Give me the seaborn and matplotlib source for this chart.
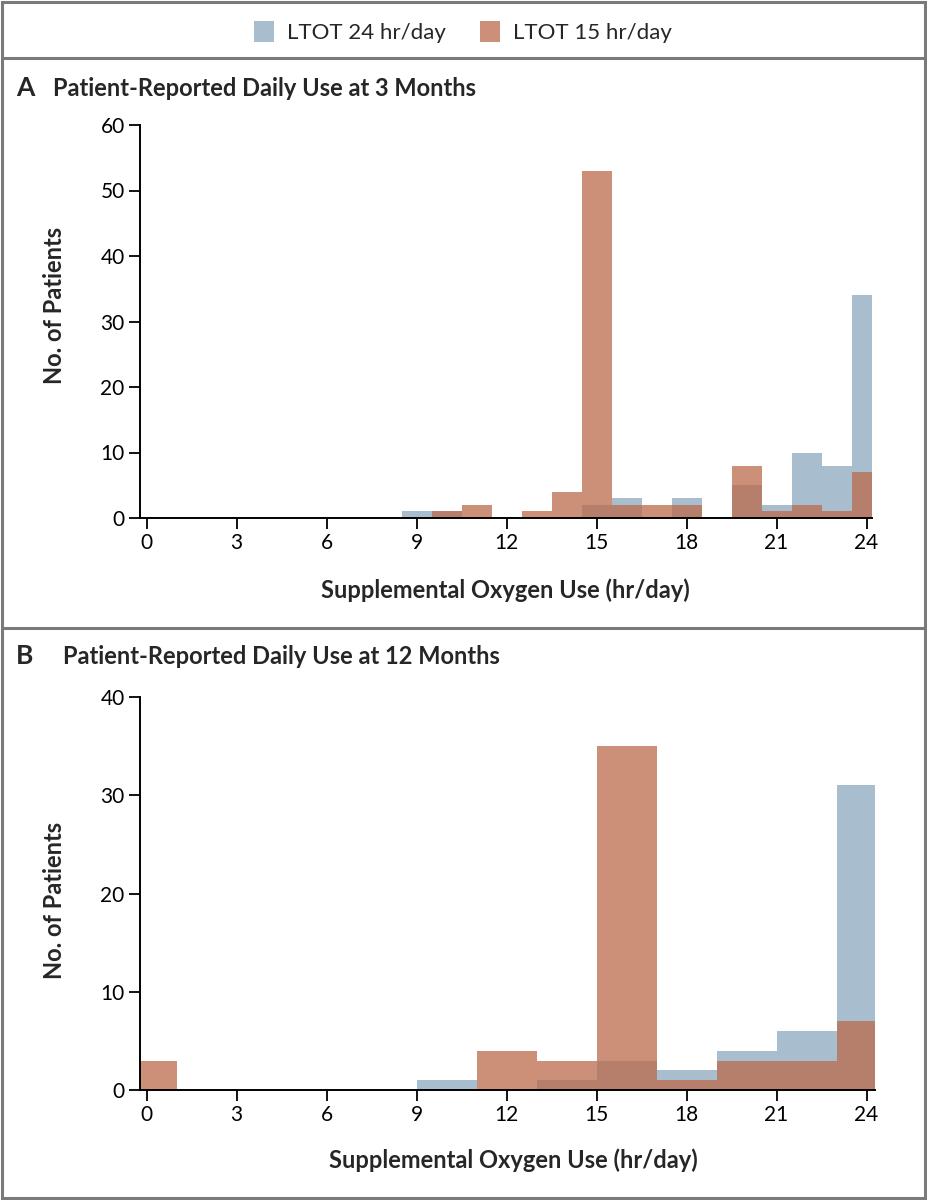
import numpy as np
import pandas as pd
import matplotlib
matplotlib.use("Agg")
import matplotlib.pyplot as plt
import seaborn as sns
from matplotlib.patches import Rectangle
from matplotlib.lines import Line2D

# ---- data ----
hours_a = [9, 10, 11, 12, 13, 14, 15, 16, 17, 18, 19, 20, 21, 22, 23, 24]
ltot24_a = [1, 1, 0, 0, 0, 0, 2, 3, 0, 3, 0, 5, 2, 10, 8, 34]
ltot15_a = [0, 1, 2, 0, 1, 4, 53, 2, 2, 2, 0, 8, 1, 2, 1, 7]

hours_b = [0, 2, 4, 6, 8, 10, 12, 14, 16, 18, 20, 22, 24]
ltot24_b = [0, 0, 0, 0, 0, 1, 0, 1, 3, 2, 4, 6, 31]
ltot15_b = [3, 0, 0, 0, 0, 0, 4, 3, 35, 1, 3, 3, 7]

series_names = ["LTOT 24 hr/day", "LTOT 15 hr/day"]
x_ticks = [0, 3, 6, 9, 12, 15, 18, 21, 24]

BLUE = "#A8BDCE"
ORANGE = "#BC6B4C"
ORANGE_ALPHA = 0.75
ORANGE_SHOWN = "#CC8F78"

sns.set_theme(style="white")
plt.rcParams["font.family"] = ["Lato", "DejaVu Sans"]

W, H = 927, 1200
fig = plt.figure(figsize=(W / 100, H / 100), dpi=100)


def fx(x):
    return x / W


def fy(y):
    return 1 - y / H


def draw_panel(rect, hours, blue, orange, edges, xlim, ylim, yticks):
    ax = fig.add_axes(rect)
    df = pd.DataFrame({"hours": hours, "blue": blue, "orange": orange})
    edges = [float(e) for e in edges]
    sns.histplot(data=df, x="hours", weights="blue", bins=edges, ax=ax,
                 color=BLUE, alpha=1, linewidth=0, stat="count")
    sns.histplot(data=df, x="hours", weights="orange", bins=edges, ax=ax,
                 color=ORANGE, alpha=ORANGE_ALPHA, linewidth=0, stat="count")
    ax.set_xlim(*xlim)
    ax.set_ylim(*ylim)
    ax.set_xticks(x_ticks)
    ax.set_yticks(yticks)
    ax.set_xlabel("")
    ax.set_ylabel("")
    for s in ["top", "right"]:
        ax.spines[s].set_visible(False)
    for s in ["left", "bottom"]:
        ax.spines[s].set_color("black")
        ax.spines[s].set_linewidth(1.4)
    ax.tick_params(axis="both", direction="out", length=8, width=1.3,
                   colors="black", labelsize=15, pad=3,
                   bottom=True, left=True)
    ax.set_facecolor("white")
    return ax


# panel A
draw_panel([fx(140), fy(518), fx(871.7) - fx(140), fy(125) - fy(518)],
           hours_a, ltot24_a, ltot15_a, np.arange(8.5, 25.5, 1),
           (-0.22, 24.17), (0, 60), [0, 10, 20, 30, 40, 50, 60])

# panel B
draw_panel([fx(140), fy(1090), fx(875) - fx(140), fy(697) - fy(1090)],
           hours_b, ltot24_b, ltot15_b, np.arange(-1, 27, 2),
           (-0.22, 24.28), (0, 40), [0, 10, 20, 30, 40])

# panel labels and titles
fig.text(fx(16), fy(88), "A", fontsize=19, fontweight="bold", va="center")
fig.text(fx(53), fy(88), "Patient-Reported Daily Use at 3 Months",
         fontsize=17, fontweight="bold", va="center")
fig.text(fx(16), fy(656), "B", fontsize=19, fontweight="bold", va="center")
fig.text(fx(63), fy(656), "Patient-Reported Daily Use at 12 Months",
         fontsize=17, fontweight="bold", va="center")

# axis labels
for yc, xc, ly in [(305, 505, 590), (900, 513, 1160)]:
    fig.text(fx(55), fy(yc), "No. of Patients", fontsize=17,
             fontweight="bold", rotation=90, ha="center", va="center")
    fig.text(fx(xc), fy(ly), "Supplemental Oxygen Use (hr/day)",
             fontsize=17, fontweight="bold", ha="center", va="center")

# legend
handles = [Rectangle((0, 0), 1, 1, facecolor=BLUE, edgecolor="none"),
           Rectangle((0, 0), 1, 1, facecolor=ORANGE_SHOWN, edgecolor="none")]
fig.legend(handles, series_names, loc="center", bbox_to_anchor=(fx(463), fy(32)),
           ncol=2, frameon=False, fontsize=16, handlelength=0.9,
           handleheight=1.1, handletextpad=0.6, columnspacing=1.5)

# frame and dividers
frame_col = "#7a7a7a"
fig.add_artist(Rectangle((fx(2), fy(1198)), fx(923), 1196 / H,
                         transform=fig.transFigure, fill=False,
                         edgecolor=frame_col, linewidth=2.2))
for yl in [58, 628]:
    fig.add_artist(Line2D([fx(2), fx(925)], [fy(yl), fy(yl)],
                          transform=fig.transFigure, color=frame_col,
                          linewidth=2.2))

fig.savefig("out.png", dpi=100, facecolor="white")
